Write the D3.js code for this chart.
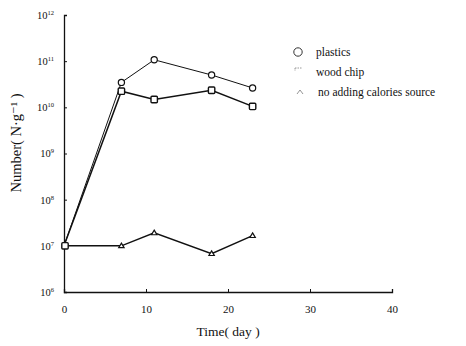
<!DOCTYPE html>
<html>
<head>
<meta charset="utf-8">
<script src="https://cdn.jsdelivr.net/npm/d3@7"></script>
<style>
  body { margin: 0; background: #fff; }
  svg { display: block; }
  text { font-family: "Liberation Serif", "DejaVu Serif", serif; fill: #111; }
</style>
</head>
<body>
<svg id="chart" width="466" height="346"></svg>
<script>
// Sampling days
const days = [0, 7, 11, 18, 23];
// Bacterial counts (N·g⁻¹), log10 values per series
const plasticsLog = [7.0, 10.54, 11.03, 10.70, 10.42];
const woodChipLog = [7.0, 10.35, 10.17, 10.37, 10.02];
const noSourceLog = [7.0, 7.0, 7.28, 6.83, 7.22];
// Axis ticks
const xTicks = [0, 10, 20, 30, 40];
const yExponents = [6, 7, 8, 9, 10, 11, 12];
const legendLabels = ["plastics", "wood chip", "no adding calories source"];

const svg = d3.select("#chart");
const x = d3.scaleLinear().domain([0, 40]).range([64, 392]);
const y = d3.scaleLog().domain([1e6, 1e12]).range([292, 15]);

const ink = "#111";

// Axes
const xAxis = d3.axisBottom(x).tickValues(xTicks).tickSize(-3).tickPadding(13).tickFormat(d3.format("d"));
const gx = svg.append("g").attr("transform", `translate(0,${y(1e6)})`).call(xAxis);
gx.select(".domain").attr("stroke", ink).attr("stroke-width", 1.3);
gx.selectAll(".tick line").attr("stroke", ink);
gx.selectAll(".tick text").attr("font-size", 11).attr("font-family", "Liberation Serif").attr("fill", ink);

const yAxis = d3.axisLeft(y).tickValues(yExponents.map(e => Math.pow(10, e))).tickSize(-3).tickPadding(10).tickFormat("");
const gy = svg.append("g").attr("transform", `translate(${x(0)},0)`).call(yAxis);
gy.select(".domain").attr("stroke", ink).attr("stroke-width", 1.3);
gy.selectAll(".tick line").attr("stroke", ink);

// Y tick labels as 10 with superscript exponent
gy.selectAll(".tick").each(function(d) {
  const e = Math.round(Math.log10(d));
  const t = d3.select(this).append("text")
    .attr("x", -10).attr("dy", "0.32em")
    .attr("text-anchor", "end")
    .attr("font-size", 10.5)
    .attr("fill", ink);
  t.append("tspan").text("10");
  t.append("tspan").attr("font-size", 6.5).attr("dy", "-0.6em").text(e);
});

// Axis titles
svg.append("text")
  .attr("x", x(20)).attr("y", 336)
  .attr("text-anchor", "middle").attr("font-size", 13.5)
  .text("Time( day )");
svg.append("text")
  .attr("transform", `translate(21,${143}) rotate(-90)`)
  .attr("text-anchor", "middle").attr("font-size", 14.5)
  .text("Number( N·g⁻¹ )");

// Series lines
const line = d3.line().x(d => x(d[0])).y(d => y(Math.pow(10, d[1])));
const series = [
  { vals: plasticsLog, shape: "circle", width: 1.0 },
  { vals: woodChipLog, shape: "square", width: 1.5 },
  { vals: noSourceLog, shape: "triangle", width: 1.5 }
];

series.forEach(s => {
  const pts = days.map((d, i) => [d, s.vals[i]]);
  svg.append("path").datum(pts)
    .attr("d", line).attr("fill", "none")
    .attr("stroke", ink).attr("stroke-width", s.width);
});

// Markers
function drawMarker(g, shape, cx, cy, r) {
  if (shape === "circle") {
    g.append("circle").attr("cx", cx).attr("cy", cy).attr("r", r)
      .attr("fill", "#fff").attr("stroke", ink).attr("stroke-width", 1.2);
  } else if (shape === "square") {
    g.append("rect").attr("x", cx - r).attr("y", cy - r).attr("width", 2 * r).attr("height", 2 * r)
      .attr("rx", 1).attr("fill", "#fff").attr("stroke", ink).attr("stroke-width", 1.4);
  } else {
    const h = r * 1.7;
    g.append("path")
      .attr("d", `M${cx},${cy - h * 0.6}L${cx + r},${cy + h * 0.4}L${cx - r},${cy + h * 0.4}Z`)
      .attr("fill", "#fff").attr("stroke", ink).attr("stroke-width", 1.2);
  }
}

const mg = svg.append("g");
series.forEach(s => {
  days.forEach((d, i) => {
    if (i === 0) return;
    const r = s.shape === "triangle" ? 2.7 : (s.shape === "square" ? 3.2 : 3.1);
    drawMarker(mg, s.shape, x(d), y(Math.pow(10, s.vals[i])), r);
  });
});
// Shared starting point
drawMarker(mg, "square", x(days[0]) + 1, y(Math.pow(10, woodChipLog[0])), 3.2);

// Legend
const legend = svg.append("g");
legendLabels.forEach((lab, i) => {
  const ly = 52 + i * 20;
  const shape = ["circle", "square", "triangle"][i];
  if (shape === "circle") {
    legend.append("circle").attr("cx", 298).attr("cy", ly).attr("r", 4.2)
      .attr("fill", "none").attr("stroke", "#333").attr("stroke-width", 1);
  } else if (shape === "square") {
    legend.append("path").attr("d", `M295,${ly - 4}H302M295,${ly - 4}V${ly - 1}`)
      .attr("fill", "none").attr("stroke", "#999").attr("stroke-width", 1).attr("stroke-dasharray", "1.5,1");
  } else {
    legend.append("path").attr("d", `M297,${ly + 2}L300,${ly - 2}L303,${ly + 2}`)
      .attr("fill", "none").attr("stroke", "#888").attr("stroke-width", 0.9);
  }
  legend.append("text")
    .attr("x", i === 2 ? 318 : 316).attr("y", ly + 4)
    .attr("font-size", 11.5)
    .attr("font-family", "Liberation Sans, sans-serif")
    .text(lab);
});
</script>
</body>
</html>
